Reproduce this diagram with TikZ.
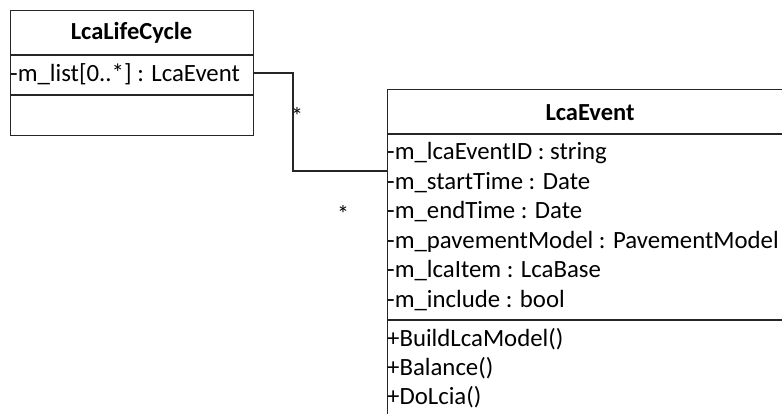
\documentclass[tikz,border=0pt]{standalone}
\usepackage{fontspec}
\setmainfont{Carlito}
\usepackage{tikz}
\usetikzlibrary{positioning,calc}

\begin{document}
\begin{tikzpicture}[
    x=1pt,y=-1pt,
    classbox/.style={draw=black!85,line width=1.3pt,anchor=north west,
                     inner sep=0pt,minimum width=#1},
    title/.style={font=\fontsize{24.5}{28}\selectfont\bfseries,inner sep=0pt},
    member/.style={font=\fontsize{24.8}{28}\selectfont,anchor=west,inner sep=1pt},
    sep/.style={draw=black!85,line width=1.3pt},
    assoc/.style={draw=black!85,line width=1.3pt},
    mult/.style={font=\fontsize{24}{28}\selectfont,inner sep=0pt}
  ]
    \useasboundingbox (0,0) rectangle (782,413);
    % LcaLifeCycle
    \node[classbox=243pt,minimum height=125pt] (life) at (10,10) {};
    \node[title] (lifename) at (131.5,33) {LcaLifeCycle};
    \draw[sep] (10,55) -- (253,55);
    \draw[sep] (10,95) -- (253,95);
    \node[member] (lifelist) at (9,74) {-m\_list[0..*] : LcaEvent};
    % LcaEvent (runs past the page edge)
    \node[classbox=406pt,minimum height=340pt] (event) at (387,89) {};
    \node[title] (eventname) at (590,113) {LcaEvent};
    \draw[sep] (387,134) -- (793,134);
    \draw[sep] (387,320) -- (793,320);
    \node[member] (a1) at (386,153) {-m\_lcaEventID : string};
    \node[member] (a2) at (386,183) {-m\_startTime : Date};
    \node[member] (a3) at (386,212) {-m\_endTime : Date};
    \node[member] (a4) at (386,242) {-m\_pavementModel : PavementModel};
    \node[member] (a5) at (386,271) {-m\_lcaItem : LcaBase};
    \node[member] (a6) at (386,301) {-m\_include : bool};
    \node[member] (m1) at (386,339) {+BuildLcaModel()};
    \node[member] (m2) at (386,368) {+Balance()};
    \node[member] (m3) at (386,397) {+DoLcia()};
    % association
    \coordinate (lifeport) at (253,73);
    \coordinate (elbow) at (293,73);
    \coordinate (eventport) at (387,171);
    \draw[assoc] (lifeport) -- (elbow) |- (eventport);
    \node[mult] (multlife) at (297,116) {*};
    \node[mult] (multevent) at (343,214) {*};
  \end{tikzpicture}
\end{document}
